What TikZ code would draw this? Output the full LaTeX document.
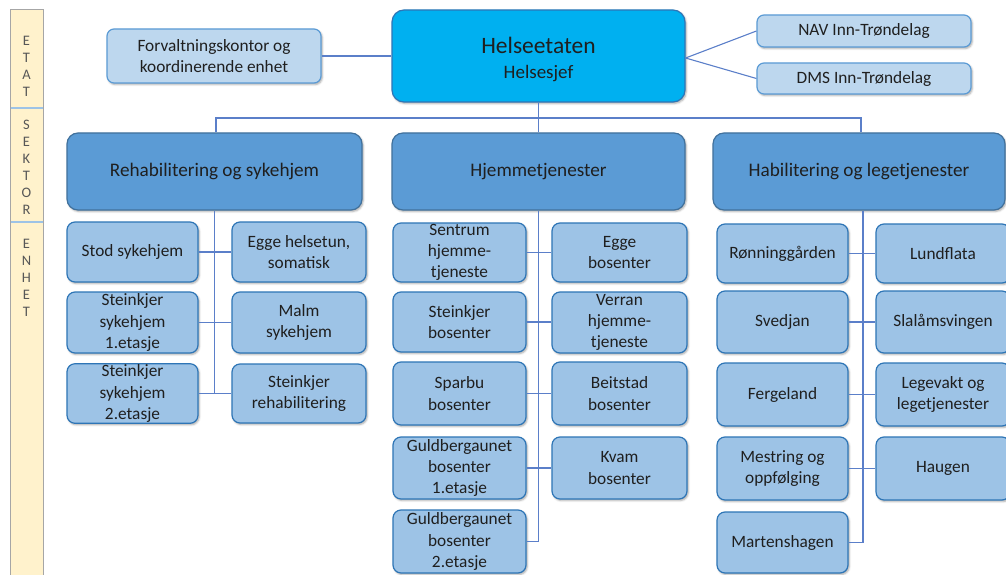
\documentclass[tikz,border=0pt]{standalone}
\usepackage{fontspec}
\setmainfont{Carlito}
\usetikzlibrary{shadows.blur}
\definecolor{bandfill}{HTML}{FFF2CC}
\definecolor{bandline}{HTML}{9DC3E6}
\definecolor{topfill}{HTML}{00B0F0}
\definecolor{topdraw}{HTML}{2E75B6}
\definecolor{secfill}{HTML}{5B9BD5}
\definecolor{secdraw}{HTML}{41719C}
\definecolor{kidfill}{HTML}{9DC3E6}
\definecolor{kiddraw}{HTML}{2E75B6}
\definecolor{sidefill}{HTML}{BDD7EE}
\definecolor{sidedraw}{HTML}{5B9BD5}
\definecolor{connc}{HTML}{5B7FC9}
\definecolor{txt}{HTML}{1F1F1F}
\tikzset{
  base/.style={rectangle, align=center, text=txt, inner sep=1pt,
    blur shadow={shadow xshift=1.2pt, shadow yshift=-1.5pt, shadow blur steps=4, shadow opacity=35}},
  topbox/.style={base, fill=topfill, draw=topdraw, line width=1.2pt, rounded corners=12pt,
    font=\fontsize{19}{25}\selectfont},
  secbox/.style={base, fill=secfill, draw=secdraw, line width=1.2pt, rounded corners=11pt,
    font=\fontsize{19.2}{23}\selectfont},
  kidbox/.style={base, fill=kidfill, draw=kiddraw, line width=1.2pt, rounded corners=8pt,
    font=\fontsize{17.3}{21.3}\selectfont},
  sidebox/.style={base, fill=sidefill, draw=sidedraw, line width=1.2pt, rounded corners=7pt,
    font=\fontsize{17.3}{21.3}\selectfont},
  conn/.style={draw=connc, line width=1.1pt},
  bandtxt/.style={align=center, text=txt!75, inner sep=0pt, font=\fontsize{14.5}{17}\selectfont},
}
\newcommand{\bx}[6]{\node[#1, minimum width=#4pt, minimum height=#5pt] (#2) at (#3) {#6};}
\begin{document}
\begin{tikzpicture}[x=1pt, y=-1pt]
\useasboundingbox (0,0) rectangle (1006,575);
% left band
\draw[fill=bandfill, draw=gray!70, line width=1pt] (10,10) rectangle (43,582);
\draw[draw=bandline, line width=1.6pt] (10.5,108) -- (42.5,108);
\draw[draw=bandline, line width=1.6pt] (10.5,222) -- (42.5,222);
\node[bandtxt] (etat) at (26.5,66) {E\\T\\A\\T};
\node[bandtxt] (sektor) at (26.5,167.5) {S\\E\\K\\T\\O\\R};
\node[bandtxt] (enhet) at (26.5,277.5) {E\\N\\H\\E\\T};

% top level
\node[topbox, minimum width=293pt, minimum height=92pt] (he) at (538.5,56) {};
\node[align=center, text=txt, font=\fontsize{19}{25}\selectfont] (hetxt) at (538.5,59) {{\fontsize{23.5}{25}\selectfont Helseetaten}\\Helsesjef};
\bx{sidebox}{forv}{214,56}{214}{54}{Forvaltningskontor og\\koordinerende enhet}
\bx{sidebox}{nav}{864,31}{214}{32}{NAV Inn-Trøndelag}
\bx{sidebox}{dms}{864,78.5}{214}{31}{DMS Inn-Trøndelag}

% sectors
\bx{secbox}{reh}{214.5,171.5}{295}{77}{Rehabilitering og sykehjem}
\bx{secbox}{hje}{538.5,171.5}{293}{77}{Hjemmetjenester}
\bx{secbox}{hab}{859,171.5}{292}{77}{Habilitering og legetjenester}

% rehab children
\bx{kidbox}{stod}{132.5,252}{131}{60}{Stod sykehjem}
\bx{kidbox}{egge}{299,252}{134}{60}{Egge helsetun,\\somatisk}
\bx{kidbox}{st1}{132.5,322.5}{131}{61}{Steinkjer\\sykehjem\\1.etasje}
\bx{kidbox}{malm}{299,322.5}{134}{61}{Malm\\sykehjem}
\bx{kidbox}{st2}{132.5,393.5}{131}{59}{Steinkjer\\sykehjem\\2.etasje}
\bx{kidbox}{strh}{299,393.5}{134}{59}{Steinkjer\\rehabilitering}

% hjemme children
\bx{kidbox}{sent}{459.5,252.5}{133}{59}{Sentrum\\hjemme-\\tjeneste}
\bx{kidbox}{eggb}{619.5,252.5}{135}{59}{Egge\\bosenter}
\bx{kidbox}{stb}{459.5,322}{133}{60}{Steinkjer\\bosenter}
\bx{kidbox}{verr}{619.5,322.5}{135}{61}{Verran\\hjemme-\\tjeneste}
\bx{kidbox}{spar}{459.5,393.5}{133}{63}{Sparbu\\bosenter}
\bx{kidbox}{beit}{619.5,393.5}{135}{63}{Beitstad\\bosenter}
\bx{kidbox}{gul1}{459.5,468}{133}{62}{Guldbergaunet\\bosenter\\1.etasje}
\bx{kidbox}{kvam}{619.5,468}{135}{62}{Kvam\\bosenter}
\bx{kidbox}{gul2}{459.5,541.5}{133}{63}{Guldbergaunet\\bosenter\\2.etasje}

% habil children
\bx{kidbox}{ronn}{782.5,253.5}{131}{59}{Rønninggården}
\bx{kidbox}{lund}{943,253.5}{134}{59}{Lundflata}
\bx{kidbox}{sved}{782.5,322}{131}{62}{Svedjan}
\bx{kidbox}{slal}{943,322}{134}{62}{Slalåmsvingen}
\bx{kidbox}{ferg}{782.5,394.5}{131}{63}{Fergeland}
\bx{kidbox}{lege}{943,394.5}{134}{63}{Legevakt og\\legetjenester}
\bx{kidbox}{mest}{782.5,468.5}{131}{63}{Mestring og\\oppfølging}
\bx{kidbox}{haug}{943,468.5}{134}{63}{Haugen}
\bx{kidbox}{mart}{782.5,542.5}{131}{61}{Martenshagen}

% connectors top
\draw[conn] (forv.east) -- (he.west);
\draw[conn] ([yshift=-2pt]he.east) -- (nav.west);
\draw[conn] ([yshift=-2pt]he.east) -- (dms.west);
\draw[conn] (he.south) -- (hje.north);
\draw[conn] ([xshift=1.5pt]reh.north) |- (538.5,118) -| ([xshift=2pt]hab.north);

% rehab
\draw[conn] (reh.south) -- (reh.south |- st2.east);
\draw[conn] (stod.east) -- (egge.west);
\draw[conn] (st1.east) -- (malm.west);
\draw[conn] (st2.east) -- (strh.west);
% hjemme
\draw[conn] (hje.south) |- (gul2.east);
\draw[conn] (sent.east) -- (eggb.west);
\draw[conn] (stb.east) -- (verr.west |- stb.east);
\draw[conn] (spar.east) -- (beit.west);
\draw[conn] (gul1.east) -- (kvam.west);
% habil
\draw[conn] ([xshift=4pt]hab.south) |- (mart.east);
\draw[conn] (ronn.east) -- (lund.west);
\draw[conn] (sved.east) -- (slal.west);
\draw[conn] (ferg.east) -- (lege.west);
\draw[conn] (mest.east) -- (haug.west);
\end{tikzpicture}
\end{document}
